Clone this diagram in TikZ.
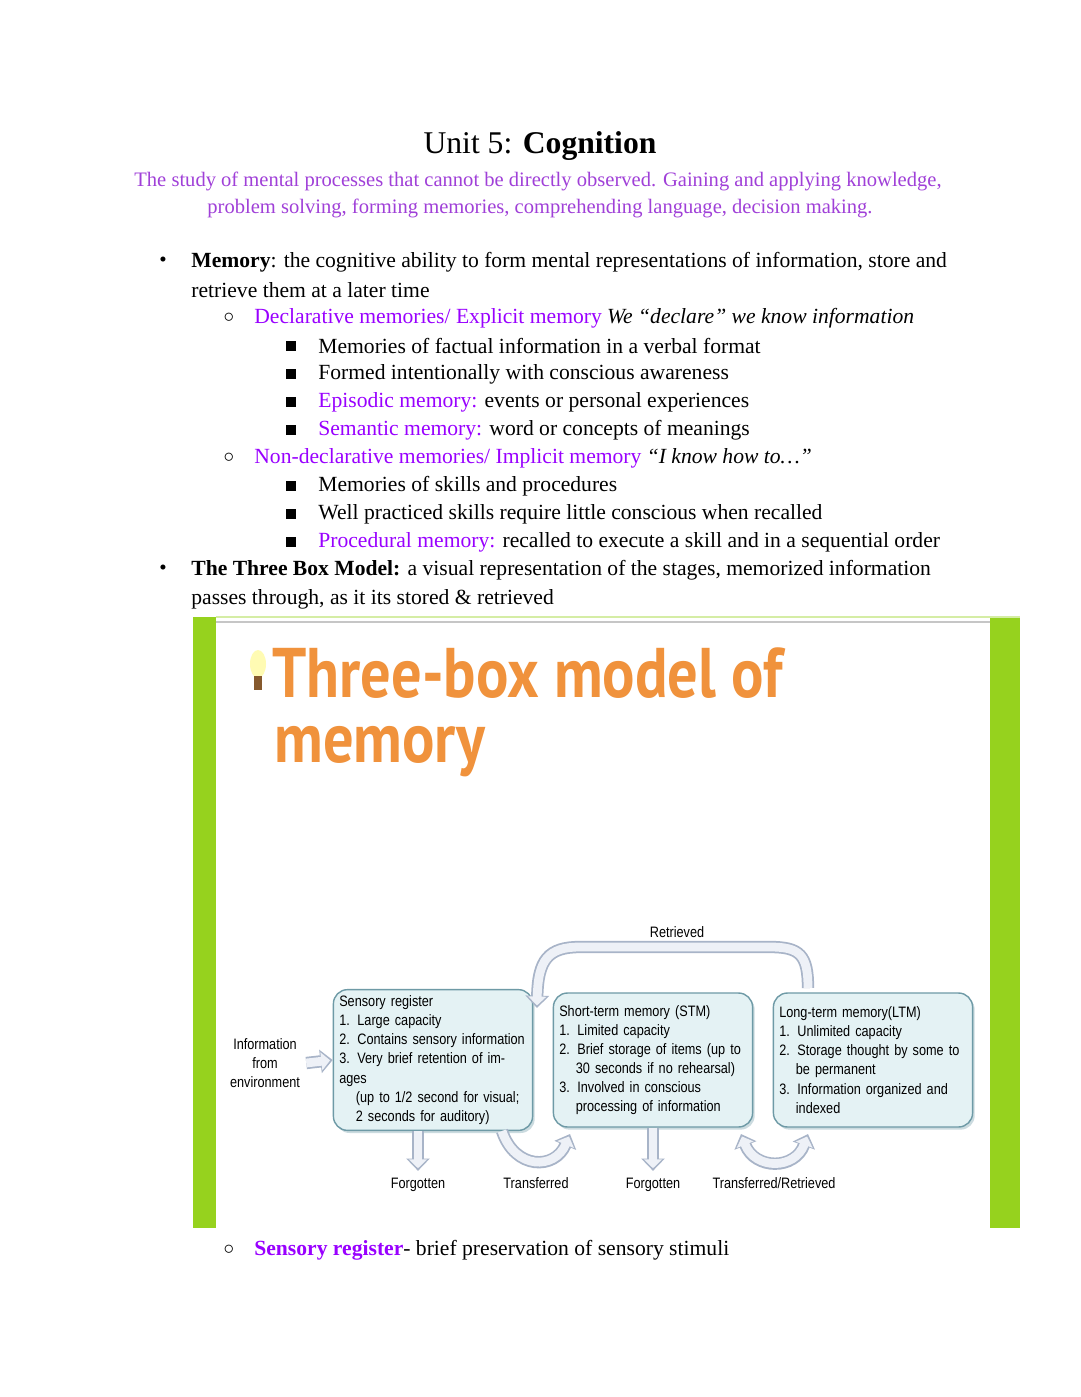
\documentclass[tikz,border=0pt]{standalone}
\usepackage{fontspec}
\setmainfont{Liberation Serif}
\newfontfamily\boxfont[FakeStretch=0.84]{Liberation Sans}
\newfontfamily\headfont{PT Sans}
\usetikzlibrary{arrows.meta,positioning,shadows}
\definecolor{violet}{HTML}{9900FF}
\definecolor{subviolet}{HTML}{A040D8}
\definecolor{barlime}{HTML}{96D21E}
\definecolor{headorange}{HTML}{F0923C}
\definecolor{boxfill}{HTML}{E4F2F4}
\definecolor{boxline}{HTML}{6E9AA6}
\definecolor{arrowline}{HTML}{A8B4C8}
\definecolor{arrowfill}{HTML}{EEF1F7}

\begin{document}
\begin{tikzpicture}[x=0.02cm,y=-0.02cm,
  txt/.style={anchor=west,inner sep=0pt,font=\fontsize{12.3}{14}\selectfont},
  bulletmark/.style={anchor=center,inner sep=0pt,font=\fontsize{12}{14}\selectfont},
  memorybox/.style={draw=boxline,line width=0.8pt,fill=boxfill,rounded corners=8pt,
    minimum width=3.88cm,minimum height=2.68cm,text width=3.75cm,align=left,
    font=\boxfont\fontsize{8.6}{10.9}\selectfont,
    drop shadow={shadow xshift=1.2pt,shadow yshift=-1.5pt,fill=boxline!70}},
  small/.style={inner sep=0pt,font=\boxfont\fontsize{8.6}{10.9}\selectfont,align=center},
  outer/.style={line width=7pt,draw=arrowline,-{Triangle[length=7pt,width=13pt]}},
  inner/.style={line width=5pt,draw=arrowfill,shorten >=1.5pt,-{Triangle[length=5pt,width=10pt]}},
  both/.style={line width=7pt,draw=arrowline,{Triangle[length=7pt,width=13pt]}-{Triangle[length=7pt,width=13pt]}},
  bothin/.style={line width=5pt,draw=arrowfill,shorten >=1.5pt,shorten <=1.5pt,{Triangle[length=5pt,width=10pt]}-{Triangle[length=5pt,width=10pt]}}]
\useasboundingbox[fill=white] (0,0) rectangle (1080,1397);

% heading
\node (unit) at (540,146) {\fontsize{18}{20}\selectfont Unit 5: \textbf{Cognition}};
\node (sub1) at (538,181) {\color{subviolet}\fontsize{11.7}{13}\selectfont The study of mental processes that cannot be directly observed. Gaining and applying knowledge,};
\node (sub2) at (540,208) {\color{subviolet}\fontsize{11.7}{13}\selectfont problem solving, forming memories, comprehending language, decision making.};

% notes
\node[bulletmark] at (163,262) {\textbullet};
\node[txt] (l1) at (191,262) {\textbf{Memory}: the cognitive ability to form mental representations of information, store and};
\node[txt] (l2) at (191,290) {retrieve them at a later time};
\node[bulletmark] at (229,318) {$\circ$};
\node[txt] (l3) at (254,318) {\color{violet}Declarative memories/ Explicit memory \color{black}\itshape We ``declare'' we know information};
\foreach \y/\t in {346/{Memories of factual information in a verbal format},
                   374/{Formed intentionally with conscious awareness},
                   402/{{\color{violet}Episodic memory:} events or personal experiences},
                   430/{{\color{violet}Semantic memory:} word or concepts of meanings},
                   486/{Memories of skills and procedures},
                   514/{Well practiced skills require little conscious when recalled},
                   542/{{\color{violet}Procedural memory:} recalled to execute a skill and in a sequential order}}{
  \node[bulletmark] at (291,\y) {\rule{6pt}{6pt}};
  \node[txt] at (318,\y) {\t};
}
\node[bulletmark] at (229,458) {$\circ$};
\node[txt] (l4) at (254,458) {\color{violet}Non-declarative memories/ Implicit memory \color{black}\itshape ``I know how to\dots''};
\node[bulletmark] at (163,570) {\textbullet};
\node[txt] (l5) at (191,570) {\textbf{The Three Box Model:} a visual representation of the stages, memorized information};
\node[txt] (l6) at (191,599) {passes through, as it its stored \& retrieved};
\node[bulletmark] at (229,1250) {$\circ$};
\node[txt] (l7) at (254,1250) {\textbf{\color{violet}Sensory register}- brief preservation of sensory stimuli};

% picture frame
\fill[barlime] (193,617) rectangle (216,1228);
\fill[barlime] (990,617) rectangle (1020,1228);
\draw[gray!45,line width=0.6pt] (216,622) -- (990,622);
\draw[barlime!40,line width=0.6pt] (216,617) -- (1020,617);

% bulb and title
\fill[yellow!30] (258,664) ellipse (8 and 14);
\fill[brown!70!black] (254,676) rectangle (262,690);
\node[anchor=west,inner sep=0pt,text=headorange] (head1) at (272,673)
  {\headfont\bfseries\fontsize{40}{44}\selectfont\scalebox{0.86}[1]{Three-box model of}};
\node[anchor=west,inner sep=0pt,text=headorange] (head2) at (274,752)
  {\headfont\bfseries\fontsize{40}{44}\selectfont\scalebox{0.86}[1]{memory}};

% boxes
\node[memorybox] (sr) at (433,1060) {Sensory register\\1. Large capacity\\2. Contains sensory information\\3. Very brief retention of images\\\hspace*{1.1em}(up to 1/2 second for visual;\\\hspace*{1.1em}2 seconds for auditory)};
\node[memorybox] (stm) at (653,1060) {Short-term memory (STM)\\1. Limited capacity\\2. Brief storage of items (up to\\\hspace*{1.1em}30 seconds if no rehearsal)\\3. Involved in conscious\\\hspace*{1.1em}processing of information};
\node[memorybox] (ltm) at (873,1060) {Long-term memory(LTM)\\1. Unlimited capacity\\2. Storage thought by some to\\\hspace*{1.1em}be permanent\\3. Information organized and\\\hspace*{1.1em}indexed};

\node[small] (env) at (265,1063) {Information\\from\\environment};
\node[small] (forg1) at (418,1185) {Forgotten};
\node[small] (trans) at (536,1183) {Transferred};
\node[small] (forg2) at (653,1185) {Forgotten};
\node[small] (transret) at (774,1183) {Transferred/Retrieved};
\node[small] (retr) at (677,932) {Retrieved};

% flow arrows
\foreach \s in {outer,inner}{
  \draw[\s] (env.east) ++(6,0) -- (sr.west);
  \draw[\s] (sr.south -| forg1) -- ([yshift=4]forg1.north);
  \draw[\s] (stm.south -| forg2) -- ([yshift=4]forg2.north);
  \draw[\s] (502,1131) .. controls (515,1170) and (555,1170) .. (570,1134);
  \draw[\s] (808,988) .. controls (808,955) and (800,947) .. (770,947)
     -- (580,947) .. controls (548,947) and (538,960) .. (537,1008);
}
\draw[both] (741,1134) .. controls (755,1170) and (795,1170) .. (808,1134);
\draw[bothin] (741,1134) .. controls (755,1170) and (795,1170) .. (808,1134);
\end{tikzpicture}
\end{document}
